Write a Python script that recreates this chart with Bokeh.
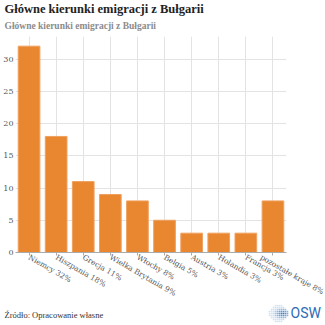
import math
import numpy as np
from bokeh.plotting import figure
from bokeh.models import Title, Range1d, FactorRange
from bokeh.layouts import column
from bokeh.embed import file_html
from bokeh.resources import INLINE
from bokeh.core.properties import value

# ---- data ----
categories = ["Niemcy 32%", "Hiszpania 18%", "Grecja 11%", "Wielka Brytania 9%",
              "Włochy 8%", "Belgia 5%", "Austria 3%", "Holandia 3%", "Francja 3%",
              "pozostałe kraje 8%"]
values = [32, 18, 11, 9, 8, 5, 3, 3, 3, 8]
y_ticks = [0, 5, 10, 15, 20, 25, 30]
title_text = "Główne kierunki emigracji z Bułgarii"
subtitle_text = "Główne kierunki emigracji z Bułgarii"
source_text = "Źródło: Opracowanie własne"
logo_text = "OSW"

SERIF = "DejaVu Serif"
HEAD = "Liberation Serif"
BAR = "#e8872f"

p = figure(x_range=FactorRange(*categories), y_range=Range1d(0, 33.5),
           width=325, height=304, output_backend="svg", toolbar_location=None,
           min_border_left=15, min_border_right=39, min_border_top=36,
           min_border_bottom=50)
p.frame_align = False
p.outline_line_color = None
p.background_fill_color = "white"
p.border_fill_color = "white"

p.vbar(x=categories, top=values, width=0.8, fill_color=BAR,
       line_color="#f0a060", line_width=1)

p.xgrid.grid_line_color = "#e3e3e3"
p.ygrid.grid_line_color = "#e3e3e3"

p.yaxis.ticker = y_ticks
p.yaxis.axis_line_color = None
p.yaxis.major_tick_line_color = None
p.yaxis.minor_tick_line_color = None
p.yaxis.major_tick_out = 0
p.yaxis.major_tick_in = 0
p.yaxis.minor_tick_out = 0
p.yaxis.minor_tick_in = 0
p.yaxis.major_label_standoff = 2
p.yaxis.major_label_text_font = SERIF
p.yaxis.major_label_text_font_size = "8px"
p.yaxis.major_label_text_color = "#555555"

p.xaxis.axis_line_color = "#aaaaaa"
p.xaxis.major_tick_line_color = "#aaaaaa"
p.xaxis.major_tick_out = 3
p.xaxis.major_tick_in = 0
p.xaxis.minor_tick_out = 0
p.xaxis.major_label_orientation = -math.pi / 6
p.xaxis.major_label_standoff = 1
p.xaxis.major_label_text_font = SERIF
p.xaxis.major_label_text_font_size = "7.5px"
p.xaxis.major_label_text_color = "#555555"

sub = Title(text=subtitle_text, text_font=HEAD, text_font_size="9.5px",
            text_color="#8c8c8c", text_font_style="bold", standoff=12, offset=-11)
p.add_layout(sub, "above")
tit = Title(text=title_text, text_font=HEAD, text_font_size="12.5px",
            text_color="#222222", text_font_style="bold", standoff=-6, offset=-11)
p.add_layout(tit, "above")

# ---- footer ----
f = figure(width=325, height=21, x_range=Range1d(0, 325), y_range=Range1d(21, 0),
           output_backend="svg", toolbar_location=None,
           min_border_left=0, min_border_right=0, min_border_top=0, min_border_bottom=0)
f.frame_align = False
f.axis.visible = False
f.grid.grid_line_color = None
f.outline_line_color = None
f.text(x=[4], y=[10], text=[source_text], text_baseline="middle", text_align="left",
       text_font=value(HEAD), text_font_size="8.5px", text_color="#333333")
f.text(x=[290], y=[8.5], text=[logo_text], text_baseline="middle", text_align="left",
       text_font=value("Roboto"), text_font_size="14px", text_color="#2b6cb5")

# globe of dots (decorative logo)
gx, gy = np.meshgrid(np.arange(-9, 10, 2.0), np.arange(-8, 9, 2.0))
gx, gy = gx.ravel(), gy.ravel()
r = np.hypot(gx / 9.5, gy / 8.5)
m = r <= 1
gx, gy = gx[m], gy[m]
alpha = np.clip(0.25 + 0.75 * (1 - np.hypot((gx - 4) / 9, gy / 6)), 0.2, 1.0)
f.scatter(x=278 + gx, y=9 + gy, size=1.6, marker="square", color="#2b6cb5",
          alpha=alpha, line_color=None)

layout = column(p, f, spacing=0)
open("out.html", "w").write(file_html(layout, INLINE))
